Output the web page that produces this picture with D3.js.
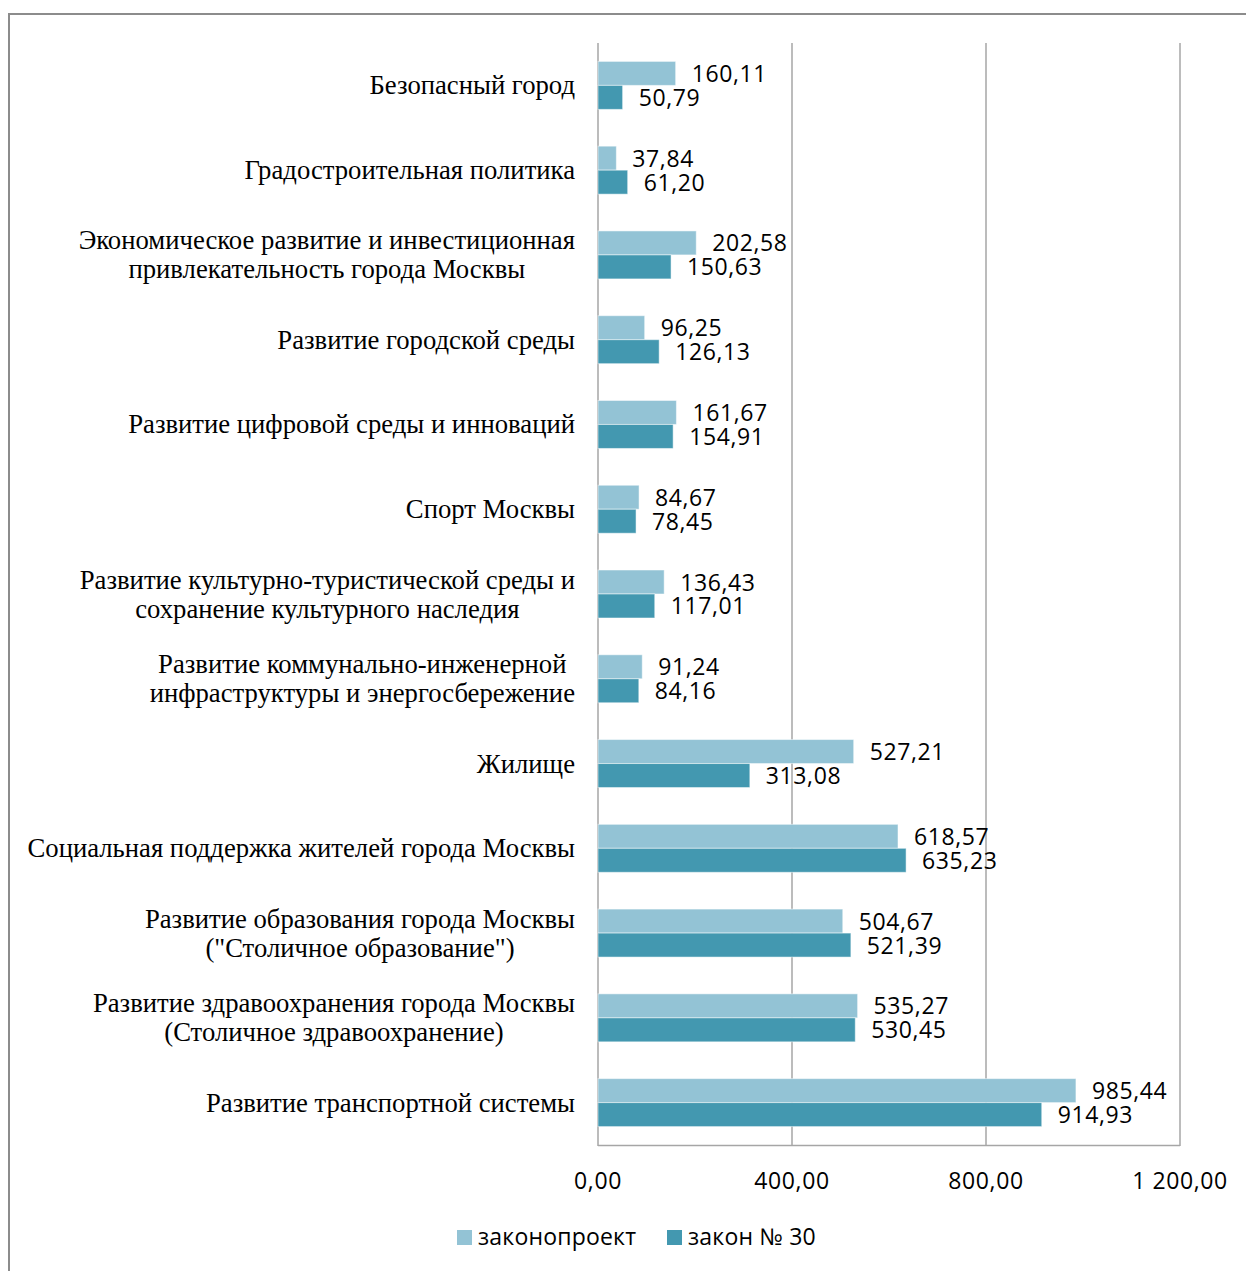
<!DOCTYPE html>
<html><head><meta charset="utf-8">
<script src="https://cdn.jsdelivr.net/npm/d3@7"></script>
<style>html,body{margin:0;padding:0;background:#fff;} svg{display:block;}</style>
</head><body>
<svg id="chart" width="1246" height="1271"></svg>
<script>
const categories = [
  "Безопасный город",
  "Градостроительная политика",
  "Экономическое развитие и инвестиционная\nпривлекательность города Москвы",
  "Развитие городской среды",
  "Развитие цифровой среды и инноваций",
  "Спорт Москвы",
  "Развитие культурно-туристической среды и\nсохранение культурного наследия",
  "Развитие коммунально-инженерной\nинфраструктуры и энергосбережение",
  "Жилище",
  "Социальная поддержка жителей города Москвы",
  "Развитие образования города Москвы\n(\"Столичное образование\")",
  "Развитие здравоохранения города Москвы\n(Столичное здравоохранение)",
  "Развитие транспортной системы"
];
const seriesNames = ["законопроект", "закон № 30"];
const billValues = [160.11, 37.84, 202.58, 96.25, 161.67, 84.67, 136.43, 91.24, 527.21, 618.57, 504.67, 535.27, 985.44];
const lawValues  = [50.79, 61.20, 150.63, 126.13, 154.91, 78.45, 117.01, 84.16, 313.08, 635.23, 521.39, 530.45, 914.93];
const tickValues = [0, 400, 800, 1200];
const tickLabels = ["0,00", "400,00", "800,00", "1 200,00"];
const colors = ["#93c3d5", "#4398b0"];

const svg = d3.select("#chart");
const fmt = v => v.toFixed(2).replace(".", ",");

// outer frame
svg.append("rect").attr("x", 9).attr("y", 14).attr("width", 1300).attr("height", 1300)
  .attr("fill", "none").attr("stroke", "#8c8c8c").attr("stroke-width", 2);

const x = d3.scaleLinear().domain([0, 1200]).range([598, 1180]);
const y = d3.scaleBand().domain(categories).range([43, 1145]).paddingInner(0.434).paddingOuter(0.217);
const y1 = d3.scaleBand().domain(seriesNames).range([0, y.bandwidth()]);

// gridlines
svg.append("g").selectAll("line").data(tickValues).join("line")
  .attr("x1", d => x(d)).attr("x2", d => x(d)).attr("y1", 43).attr("y2", 1146)
  .attr("stroke", "#a6a6a6").attr("stroke-width", 1.5);
// bottom axis line
svg.append("line").attr("x1", x(0)).attr("x2", x(1200)).attr("y1", 1145.5).attr("y2", 1145.5)
  .attr("stroke", "#a6a6a6").attr("stroke-width", 1.5);

const rows = categories.map((c, i) => ({cat: c, vals: [billValues[i], lawValues[i]]}));

const g = svg.append("g").selectAll("g").data(rows).join("g")
  .attr("transform", d => `translate(0,${y(d.cat)})`);

g.selectAll("rect").data(d => d.vals.map((v, j) => ({v, s: seriesNames[j], j}))).join("rect")
  .attr("x", x(0)).attr("y", d => y1(d.s)).attr("width", d => x(d.v) - x(0)).attr("height", y1.bandwidth())
  .attr("fill", d => colors[d.j]).attr("stroke", "#ffffff").attr("stroke-opacity", 0.5).attr("stroke-width", 1);

g.selectAll("text").data(d => d.vals.map((v, j) => ({v, s: seriesNames[j], j}))).join("text")
  .attr("x", d => x(d.v) + 16).attr("y", d => y1(d.s) + y1.bandwidth() / 2 + 8.5)
  .attr("font-family", "'Open Sans', sans-serif").attr("font-size", 23).attr("letter-spacing", 0.6).attr("fill", "#000")
  .text(d => fmt(d.v));

// category labels
const labelRight = 575;
categories.forEach(c => {
  const lines = c.split("\n");
  const cy = y(c) + y.bandwidth() / 2;
  const t = svg.append("text").attr("font-family", "'Liberation Serif', 'Times New Roman', serif")
    .attr("font-size", 26.7).attr("fill", "#000");
  if (lines.length === 1) {
    t.attr("x", labelRight).attr("y", cy + 9).attr("text-anchor", "end").text(lines[0]);
  } else {
    const spans = lines.map((l, i) => t.append("tspan").attr("y", cy - 5.5 + i * 29).text(l));
    const widths = spans.map(s => s.node().getComputedTextLength());
    const maxW = d3.max(widths);
    const center = labelRight - maxW / 2;
    spans.forEach(s => s.attr("x", center).attr("text-anchor", "middle"));
  }
});

// tick labels
svg.append("g").selectAll("text").data(tickValues).join("text")
  .attr("x", d => x(d)).attr("y", 1189).attr("text-anchor", "middle")
  .attr("font-family", "'Open Sans', sans-serif").attr("font-size", 23).attr("letter-spacing", 0.6).attr("fill", "#000")
  .text((d, i) => tickLabels[i]);

// legend
const legendX = [457, 667];
const lg = svg.append("g").selectAll("g").data(seriesNames).join("g")
  .attr("transform", (d, i) => `translate(${legendX[i]},1230)`);
lg.append("rect").attr("width", 15).attr("height", 15).attr("fill", (d, i) => colors[i]);
lg.append("text").attr("x", 21).attr("y", 15).attr("font-family", "'Open Sans', sans-serif")
  .attr("font-size", 23).attr("letter-spacing", 0.2).attr("fill", "#000").text(d => d);
</script>
</body></html>
